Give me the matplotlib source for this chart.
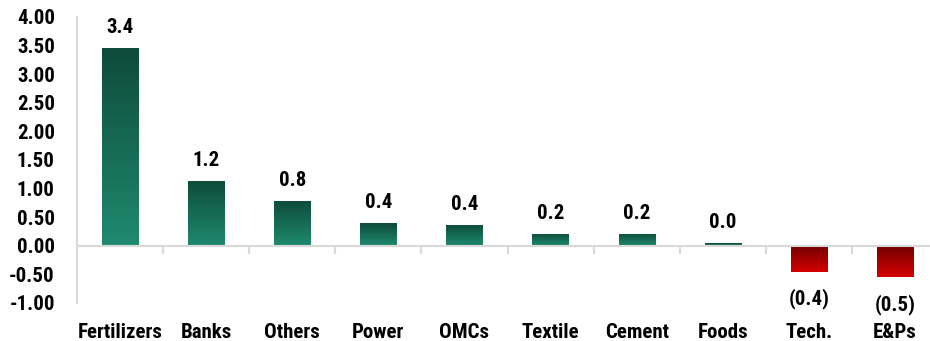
import numpy as np
import matplotlib
matplotlib.use("Agg")
import matplotlib.pyplot as plt
from matplotlib import font_manager
from matplotlib.colors import LinearSegmentedColormap

# buscar una fuente estrecha parecida a Arial Narrow
names = set(f.name for f in font_manager.fontManager.ttflist)
narrow = None
for cand in ['Liberation Sans Narrow', 'Arial Narrow', 'Roboto Condensed',
             'Open Sans Condensed', 'DejaVu Sans Condensed']:
    if cand in names:
        narrow = cand
        break
if narrow:
    plt.rcParams['font.family'] = [narrow, 'DejaVu Sans']
    fs_tick, fs_cat, fs_lab = 15, 15, 15
else:
    plt.rcParams['font.family'] = ['Liberation Sans', 'DejaVu Sans']
    fs_tick, fs_cat, fs_lab = 13.5, 13.5, 13.5
plt.rcParams['font.weight'] = 'bold'

# datos
sectors = ['Fertilizers', 'Banks', 'Others', 'Power', 'OMCs', 'Textile',
           'Cement', 'Foods', 'Tech.', 'E&Ps']
values = [3.46, 1.14, 0.79, 0.40, 0.37, 0.21, 0.21, 0.05, -0.45, -0.54]
labels = ['3.4', '1.2', '0.8', '0.4', '0.4', '0.2', '0.2', '0.0', '(0.4)', '(0.5)']

fig = plt.figure(figsize=(9.3, 3.41), dpi=100)
ax = fig.add_axes([77/930, 1 - 303/341, 861/930, (303 - 17)/341])

green = LinearSegmentedColormap.from_list('g', ['#1f8a6f', '#0e4b3a'])
red = LinearSegmentedColormap.from_list('r', ['#d60000', '#730000'])

x = np.arange(len(sectors))
bars = ax.bar(x, values, width=0.42, color='none', zorder=2)
grad = np.linspace(0, 1, 256).reshape(-1, 1)
for b, v in zip(bars, values):
    x0 = b.get_x()
    x1 = x0 + b.get_width()
    if v >= 0:
        im = ax.imshow(grad, cmap=green, extent=[x0, x1, 0, v], origin='lower',
                       aspect='auto', zorder=2)
    else:
        im = ax.imshow(grad, cmap=red, extent=[x0, x1, v, 0], origin='lower',
                       aspect='auto', zorder=2)
    im.set_clip_path(b)

for xi, v, lab in zip(x, values, labels):
    if v >= 0:
        ax.text(xi, v + 0.26, lab, ha='center', va='baseline', fontsize=fs_lab)
    else:
        ax.text(xi, v - 0.3, lab, ha='center', va='top', fontsize=fs_lab)

ax.set_xlim(-0.5, len(sectors) - 0.5)
ax.set_ylim(-1.0, 4.0)
yt = np.arange(-1.0, 4.01, 0.5)
ax.set_yticks(yt)
ax.set_yticklabels([f'{t:.2f}' for t in yt], fontsize=fs_tick)
ax.tick_params(axis='y', length=0, pad=16)

# eje x en cero con marcas entre categorias
ax.axhline(0, color='#d9d9d9', lw=1.5, zorder=3)
for b in np.arange(0.5, len(sectors) - 0.5, 1):
    ax.plot([b, b], [0, -0.12], color='#d9d9d9', lw=1.5, zorder=3, clip_on=False)
ax.set_xticks([])
for xi, s in zip(x, sectors):
    ax.text(xi, -1.62, s, ha='center', va='baseline', fontsize=fs_cat)

for sp in ['top', 'right', 'bottom']:
    ax.spines[sp].set_visible(False)
ax.spines['left'].set_color('#d9d9d9')
ax.spines['left'].set_linewidth(1.5)

fig.savefig('out.png', dpi=100)
